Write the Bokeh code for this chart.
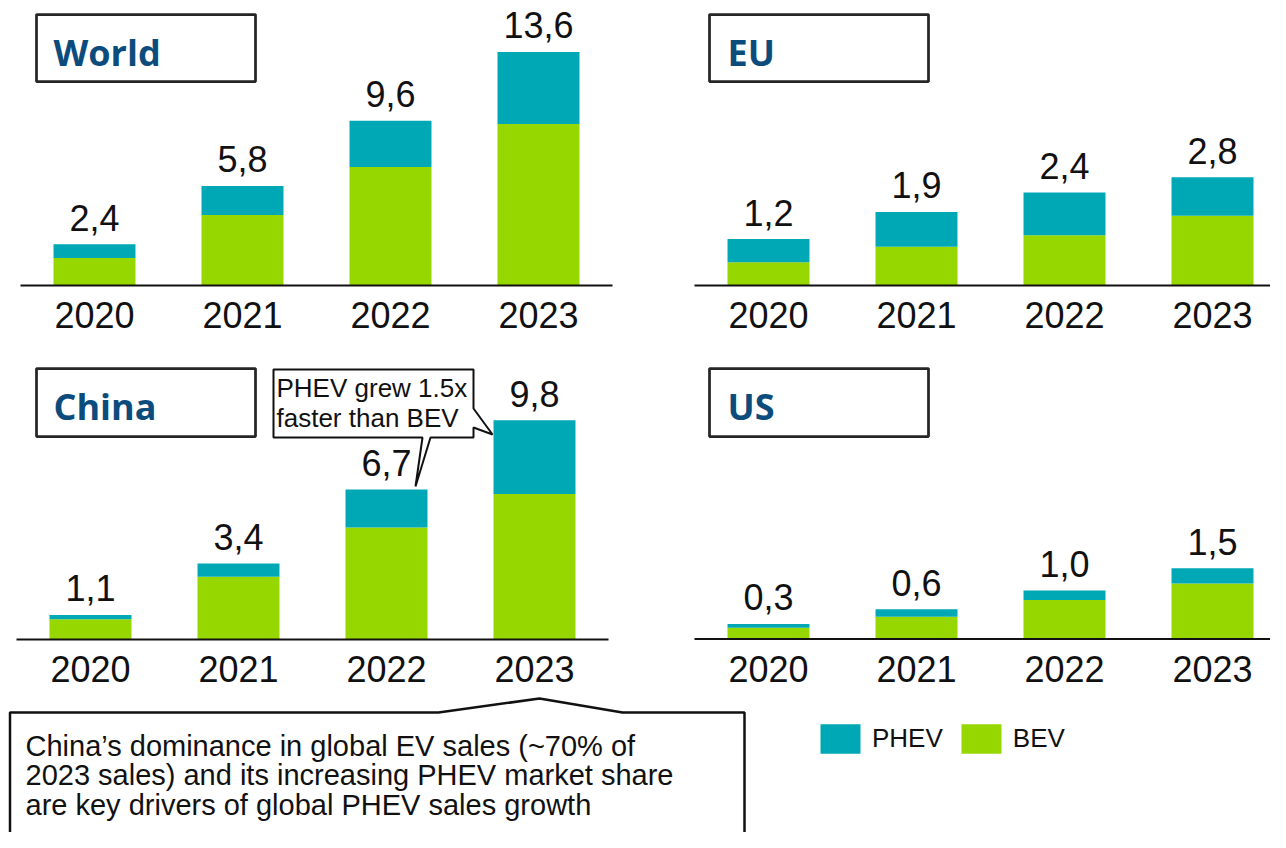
from bokeh.plotting import figure
from bokeh.models import Range1d, ColumnDataSource, Legend, LegendItem
from bokeh.core.properties import value
from bokeh.embed import file_html
from bokeh.resources import INLINE

# ---------------- data ----------------
years = ["2020", "2021", "2022", "2023"]

world_bev = [1.6, 4.1, 6.9, 9.4]
world_phev = [0.8, 1.7, 2.7, 4.2]
world_labels = ["2,4", "5,8", "9,6", "13,6"]

eu_bev = [0.6, 1.0, 1.3, 1.8]
eu_phev = [0.6, 0.9, 1.1, 1.0]
eu_labels = ["1,2", "1,9", "2,4", "2,8"]

china_bev = [0.9, 2.8, 5.0, 6.5]
china_phev = [0.2, 0.6, 1.7, 3.3]
china_labels = ["1,1", "3,4", "6,7", "9,8"]

us_bev = [0.24, 0.47, 0.83, 1.18]
us_phev = [0.08, 0.16, 0.20, 0.32]
us_labels = ["0,3", "0,6", "1,0", "1,5"]

series_names = ["PHEV", "BEV"]
china_note = ["PHEV grew 1.5x", "faster than BEV"]
bottom_note = [
    "China\u2019s dominance in global EV sales (~70% of",
    "2023 sales) and its increasing PHEV market share",
    "are key drivers of global PHEV sales growth",
]

# ---------------- style ----------------
TEAL = "#00A8B5"
GREEN = "#97D700"
BLUE = "#0B4C7D"
INK = "#111111"
BOXLINE = "#262626"
FONT = "Liberation Sans"
TFONT = "Open Sans"
BASE_FIX = 0.375   # svg text sits this fraction of the font size below the requested baseline
TBASE_FIX = 0.42

W, H = 1270, 832

p = figure(width=W, height=H,
           x_range=Range1d(0, W), y_range=Range1d(H, 0),
           min_border=0, toolbar_location=None, output_backend="svg",
           x_axis_location=None, y_axis_location=None,
           outline_line_color=None, background_fill_color="white",
           border_fill_color="white")
p.grid.visible = False

SPACING = 148.0
BAR_W = 0.554
NUM_PX = 36

panels = [
    dict(name="world", title="World", bev=world_bev, phev=world_phev, labels=world_labels,
         axis_left=20, base=285, k=17.17, box=(36, 255, 14, 81), tpos=(53, 67)),
    dict(name="eu", title="EU", bev=eu_bev, phev=eu_phev, labels=eu_labels,
         axis_left=694, base=285, k=38.7, box=(709, 928, 14, 81), tpos=(727, 67)),
    dict(name="china", title="China", bev=china_bev, phev=china_phev, labels=china_labels,
         axis_left=16, base=639, k=22.38, box=(36, 255, 368, 436), tpos=(53, 421)),
    dict(name="us", title="US", bev=us_bev, phev=us_phev, labels=us_labels,
         axis_left=694, base=638.5, k=47.1, box=(709, 928, 368, 436), tpos=(727, 421)),
]

legend_renderers = {}
for pn in panels:
    name = pn["name"]
    L, B, k = pn["axis_left"], pn["base"], pn["k"]
    p.extra_x_ranges[name] = Range1d((0 - L - SPACING / 2) / SPACING,
                                     (W - L - SPACING / 2) / SPACING)
    p.extra_y_ranges[name] = Range1d((B - H) / k, B / k)
    tops = [b + ph for b, ph in zip(pn["bev"], pn["phev"])]
    src = ColumnDataSource(dict(x=list(range(len(years))), bev=pn["bev"], top=tops,
                                label=pn["labels"], year=years))
    rb = p.vbar(x="x", width=BAR_W, bottom=0, top="bev", source=src,
                fill_color=GREEN, line_color=None,
                x_range_name=name, y_range_name=name)
    rp = p.vbar(x="x", width=BAR_W, bottom="bev", top="top", source=src,
                fill_color=TEAL, line_color=None,
                x_range_name=name, y_range_name=name)
    legend_renderers.setdefault("PHEV", rp)
    legend_renderers.setdefault("BEV", rb)
    # baseline (category axis line)
    p.segment(x0=-0.5, y0=0, x1=len(years) - 0.5, y1=0, line_color=INK, line_width=2,
              x_range_name=name, y_range_name=name)
    # year labels
    p.text(x="x", y=0, text="year", source=src, text_align="center",
           text_baseline="alphabetic", y_offset=43 - BASE_FIX * NUM_PX,
           text_font=value(FONT), text_font_size=f"{NUM_PX}px", text_color=INK,
           x_range_name=name, y_range_name=name)
    # value labels
    p.text(x="x", y="top", text="label", source=src, text_align="center",
           text_baseline="alphabetic", y_offset=-13 - BASE_FIX * NUM_PX,
           text_font=value(FONT), text_font_size=f"{NUM_PX}px", text_color=INK,
           x_range_name=name, y_range_name=name)
    # title box
    l, r, t, b = pn["box"]
    p.quad(left=l, right=r, top=t, bottom=b, fill_color="white",
           line_color=BOXLINE, line_width=2.75)
    p.text(x=pn["tpos"][0], y=pn["tpos"][1], text=[pn["title"]],
           y_offset=-TBASE_FIX * 36,
           text_font=value(TFONT), text_font_style="bold", text_font_size="36px",
           text_color=BLUE, text_baseline="alphabetic", text_align="left")

# China callout
cx = [273, 473, 473, 492, 473, 473, 430, 415, 422, 273]
cy = [369, 369, 408, 434, 427, 437, 437, 486, 437, 437]
p.patch(cx, cy, fill_color="white", line_color=INK, line_width=2)
for i, line in enumerate(china_note):
    p.text(x=276, y=397 + 30 * i, text=[line], y_offset=-BASE_FIX * 26,
           text_font=value(FONT), text_font_size="26px", text_color=INK,
           text_baseline="alphabetic")

# bottom callout
bx = [9.5, 438, 539, 622, 744, 744, 9.5]
by = [712, 712, 698, 712, 712, 870, 870]
p.patch(bx, by, fill_color="white", line_color=INK, line_width=2.5)
for i, line in enumerate(bottom_note):
    p.text(x=25, y=756 + 29.5 * i, text=[line], y_offset=-BASE_FIX * 29,
           text_font=value(FONT), text_font_size="29px", text_color=INK,
           text_baseline="alphabetic")

# legend
legend = Legend(items=[LegendItem(label=s, renderers=[legend_renderers[s]]) for s in series_names],
                orientation="horizontal", location=(815, 75),
                glyph_width=50, glyph_height=37, label_standoff=7, spacing=13,
                padding=0, margin=0, border_line_color=None, background_fill_alpha=0,
                label_text_font=FONT, label_text_font_size="26px", label_text_color=INK)
p.add_layout(legend)

open("out.html", "w").write(file_html(p, INLINE))
